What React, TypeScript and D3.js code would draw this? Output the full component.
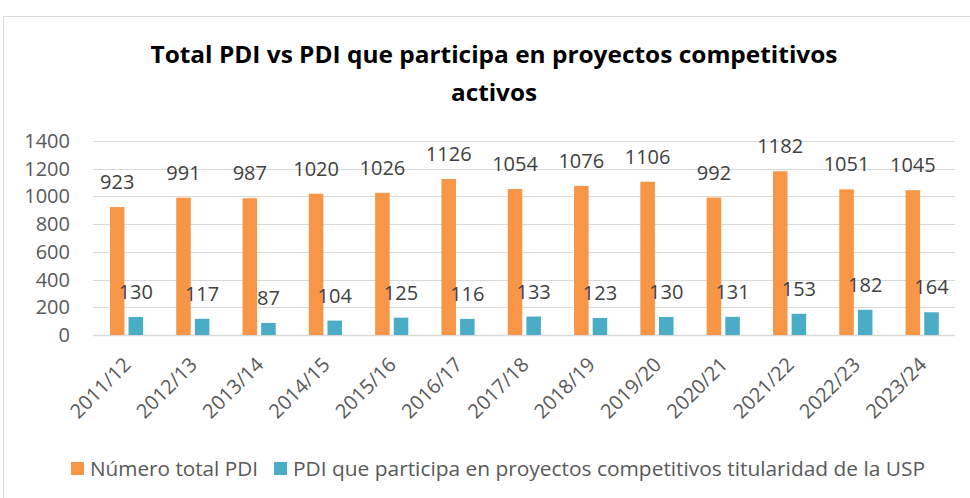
import React from "react";
import * as d3 from "d3";

const categories = ["2011/12","2012/13","2013/14","2014/15","2015/16","2016/17","2017/18","2018/19","2019/20","2020/21","2021/22","2022/23","2023/24"];
const totalPDI = [923, 991, 987, 1020, 1026, 1126, 1054, 1076, 1106, 992, 1182, 1051, 1045];
const usPDI = [130, 117, 87, 104, 125, 116, 133, 123, 130, 131, 153, 182, 164];
const yTicks = [0, 200, 400, 600, 800, 1000, 1200, 1400];
const seriesNames = ["Número total PDI", "PDI que participa en proyectos competitivos titularidad de la USP"];
const colors = ["#F79646", "#4BACC6"];

const W = 970, H = 498;
const plot = { left: 93, right: 955, top: 141, bottom: 335 };
const FONT = "'Open Sans', sans-serif";

export default function App() {
  const x = d3.scaleBand<string>().domain(categories).range([plot.left, plot.right]).paddingInner(0).paddingOuter(0);
  const y = d3.scaleLinear().domain([0, 1400]).range([plot.bottom, plot.top]);
  const bw = x.bandwidth();
  const inner = d3.scaleBand<number>().domain([0, 1]).range([bw * 0.255, bw * 0.755]).paddingInner(0.22);
  const series = [totalPDI, usPDI];

  return (
    <svg width={W} height={H} style={{ position: "absolute", left: 0, top: 0, background: "#fff" }} fontFamily={FONT}>
      <rect x={3.5} y={16.5} width={W + 10} height={H} fill="#fff" stroke="#d9d9d9" strokeWidth={1} />
      <text x={494} y={63} textAnchor="middle" fontSize={24} fontWeight="bold" fill="#000" textLength={687} lengthAdjust="spacingAndGlyphs">
        Total PDI vs PDI que participa en proyectos competitivos
      </text>
      <text x={494} y={101} textAnchor="middle" fontSize={24} fontWeight="bold" fill="#000" textLength={86} lengthAdjust="spacingAndGlyphs">
        activos
      </text>
      {yTicks.map((t) => (
        <g key={t}>
          <line x1={plot.left} x2={plot.right} y1={Math.round(y(t)) + 0.5} y2={Math.round(y(t)) + 0.5} stroke="#d9d9d9" strokeWidth={t === 0 ? 1.5 : 1} />
          <text x={70} y={y(t) + 7} textAnchor="end" fontSize={20} fill="#595959">{t}</text>
        </g>
      ))}
      {series.map((vals, si) =>
        vals.map((v, i) => {
          const bx = (x(categories[i]) as number) + (inner(si) as number);
          const w = inner.bandwidth();
          return (
            <g key={`${si}-${i}`}>
              <rect x={bx} y={y(v)} width={w} height={y(0) - y(v)} fill={colors[si]} />
              <text x={bx + w / 2} y={y(v) - 18} textAnchor="middle" fontSize={20} fill="#404040">{v}</text>
            </g>
          );
        })
      )}
      {categories.map((c) => {
        const cx = (x(c) as number) + bw / 2 + 6;
        return (
          <text key={c} transform={`translate(${cx},${plot.bottom + 31}) rotate(-45)`} textAnchor="end" fontSize={20} fill="#595959">{c}</text>
        );
      })}
      <g>
        <rect x={71} y={462} width={13} height={13} fill={colors[0]} />
        <text x={90} y={476} fontSize={20} fill="#595959" textLength={168} lengthAdjust="spacingAndGlyphs">{seriesNames[0]}</text>
        <rect x={274} y={462} width={13} height={13} fill={colors[1]} />
        <text x={293} y={476} fontSize={20} fill="#595959" textLength={632} lengthAdjust="spacingAndGlyphs">{seriesNames[1]}</text>
      </g>
    </svg>
  );
}
